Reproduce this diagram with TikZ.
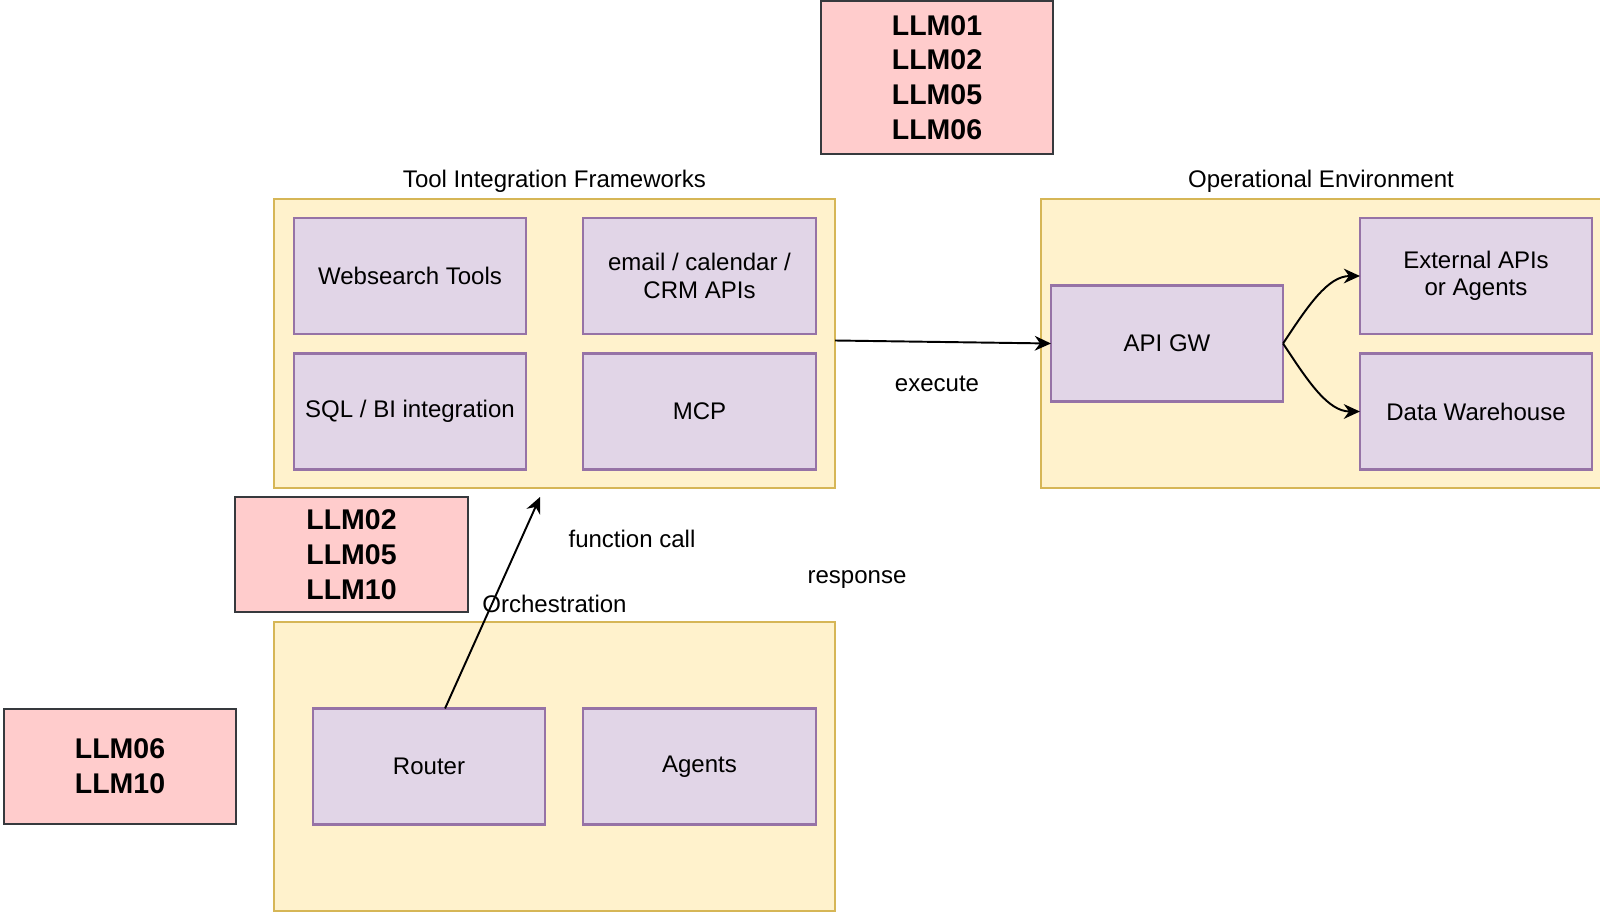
\documentclass[tikz,border=0pt]{standalone}
\usepackage{fontspec}
\setmainfont{Liberation Sans}
\usetikzlibrary{arrows.meta, positioning}
\definecolor{groupfill}{HTML}{FFF2CC}
\definecolor{groupline}{HTML}{D6B656}
\definecolor{toolfill}{HTML}{E1D5E7}
\definecolor{toolline}{HTML}{9673A6}
\definecolor{riskfill}{HTML}{FFCCCC}
\definecolor{riskline}{HTML}{36393D}

\begin{document}
\begin{tikzpicture}[x=0.01cm, y=-0.01cm,
  group/.style={draw=groupline, fill=groupfill, line width=0.6pt, minimum width=5.61cm, minimum height=2.89cm, inner sep=0pt, outer sep=0pt},
  tool/.style={draw=toolline, fill=toolfill, line width=0.6pt, minimum width=2.32cm, minimum height=1.16cm, inner sep=0pt, outer sep=0pt, align=center, font=\fontsize{6.83pt}{7.8pt}\selectfont},
  risk/.style={draw=riskline, fill=riskfill, line width=0.6pt, minimum width=2.32cm, inner sep=0pt, align=center, font=\fontsize{8.1pt}{9.87pt}\selectfont\bfseries},
  grouplabel/.style={inner sep=0pt, font=\fontsize{6.83pt}{7.8pt}\selectfont},
  flow/.style={-{Stealth[length=4.6pt, width=4.2pt, inset=1.5pt]}, line width=0.55pt}
]
\useasboundingbox (0,0) rectangle (1600,915);

% OWASP risk tags
\node[risk, minimum height=1.53cm] (risktop) at (937,77.5) {LLM01\\LLM02\\LLM05\\LLM06};
\node[risk, minimum height=1.15cm] (riskcall) at (351.5,554.5) {LLM02\\LLM05\\LLM10};
\node[risk, minimum height=1.15cm] (riskorch) at (120,766.5) {LLM06\\LLM10};

% Tool integration frameworks
\node[group] (tools) at (554.5,343.5) {};
\node[grouplabel] (toolslabel) at (554.5,181) {Tool Integration Frameworks};
\node[tool] (web) at (410,276) {Websearch Tools};
\node[tool] (mail) at (699.5,276) {email / calendar /\\CRM APIs};
\node[tool] (sql) at (410,411.5) {SQL / BI integration};
\node[tool] (mcp) at (699.5,411.5) {MCP};

% Operational environment (runs off the right edge)
\node[group, minimum width=5.6cm] (ops) at (1321,343.5) {};
\node[grouplabel] (opslabel) at (1321,181) {Operational Environment};
\node[tool] (gw) at (1167,343.5) {API GW};
\node[tool] (ext) at (1476,276) {External APIs\\or Agents};
\node[tool] (dwh) at (1476,411.5) {Data Warehouse};

% Orchestration
\node[group] (orch) at (554.5,766.5) {};
\node[tool] (router) at (429,766.5) {Router};
\node[tool] (agents) at (699.5,766.5) {Agents};

% Connectors
\draw[flow] ([yshift=0.03cm]tools.east) -- (gw.west);
\draw[flow] (gw.east) .. controls +(25,-38) and +(-32,0) .. (ext.west);
\draw[flow] (gw.east) .. controls +(25,38) and +(-32,0) .. (dwh.west);
\coordinate (callend) at (540,497);
\draw[flow] ([xshift=0.16cm]router.north) -- (callend);

% Labels
\node[grouplabel] (orchlabel) at (554.5,604) {Orchestration};
\node[grouplabel] (execlabel) at (937,384) {execute};
\node[grouplabel] (calllabel) at (632,539) {function call};
\node[grouplabel] (resplabel) at (857,580) {response};

\end{tikzpicture}
\end{document}
